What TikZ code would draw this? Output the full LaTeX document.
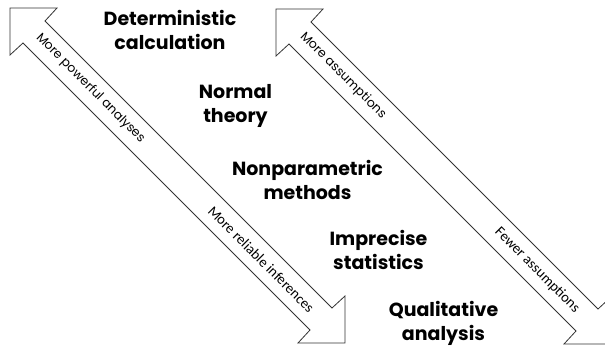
\documentclass[tikz,border=0pt]{standalone}
\usepackage{fontspec}
\newfontfamily\gothic{Poppins}
\newfontfamily\calib{Carlito}
\usetikzlibrary{positioning}

\tikzset{
  arrowline/.style={draw=black!80, line width=0.8pt, line join=miter},
  method/.style={font=\gothic\bfseries\fontsize{19}{24}\selectfont, align=center},
  uplabel/.style={sloped, inner sep=0pt, font=\gothic\fontsize{12.5}{14}\selectfont},
  downlabel/.style={sloped, inner sep=0pt, font=\calib\fontsize{14.5}{16}\selectfont}
}

\begin{document}
\begin{tikzpicture}[x=1pt, y=-1pt, on grid]

  \useasboundingbox (0,0) rectangle (605,350);
  \clip (0,0) rectangle (605,350);

  % tips of the two double arrows
  \coordinate (ltop) at (10,8);
  \coordinate (lbot) at (345,343);
  \coordinate (rtop) at (276,9);
  \coordinate (rbot) at (611,344);

  \draw[arrowline] (ltop) -- ++(47,0) -- ++(-12,13) -- ++(287,287) -- ++(13,-12)
    -- ++(0,47) -- ++(-47,0) -- ++(12,-13) -- ++(-287,-287) -- ++(-13,12) -- cycle;
  \draw[arrowline] (rtop) -- ++(47,0) -- ++(-12,13) -- ++(287,287) -- ++(13,-12)
    -- ++(0,47) -- ++(-47,0) -- ++(12,-13) -- ++(-287,-287) -- ++(-13,12) -- cycle;

  \path (ltop) -- (lbot)
    node[uplabel, pos=0.24] (power) {More powerful analyses}
    node[downlabel, pos=0.75] (reliable) {More reliable inferences};
  \path (rtop) -- (rbot)
    node[uplabel, pos=0.20] (moreass) {More assumptions}
    node[downlabel, pos=0.78] (fewerass) {Fewer assumptions};

  % methods, from top left to bottom right
  \node[method] (det) at (170,29.5) {Deterministic\\calculation};
  \node[method, below right=76pt and 65.5pt of det] (normal) {Normal\\theory};
  \node[method, below right=74.5pt and 72pt of normal] (nonpar) {Nonparametric\\methods};
  \node[method, below right=69.5pt and 71pt of nonpar] (imprec) {Imprecise\\statistics};
  \node[method, below right=74pt and 65pt of imprec] (qual) {Qualitative\\analysis};

\end{tikzpicture}
\end{document}
